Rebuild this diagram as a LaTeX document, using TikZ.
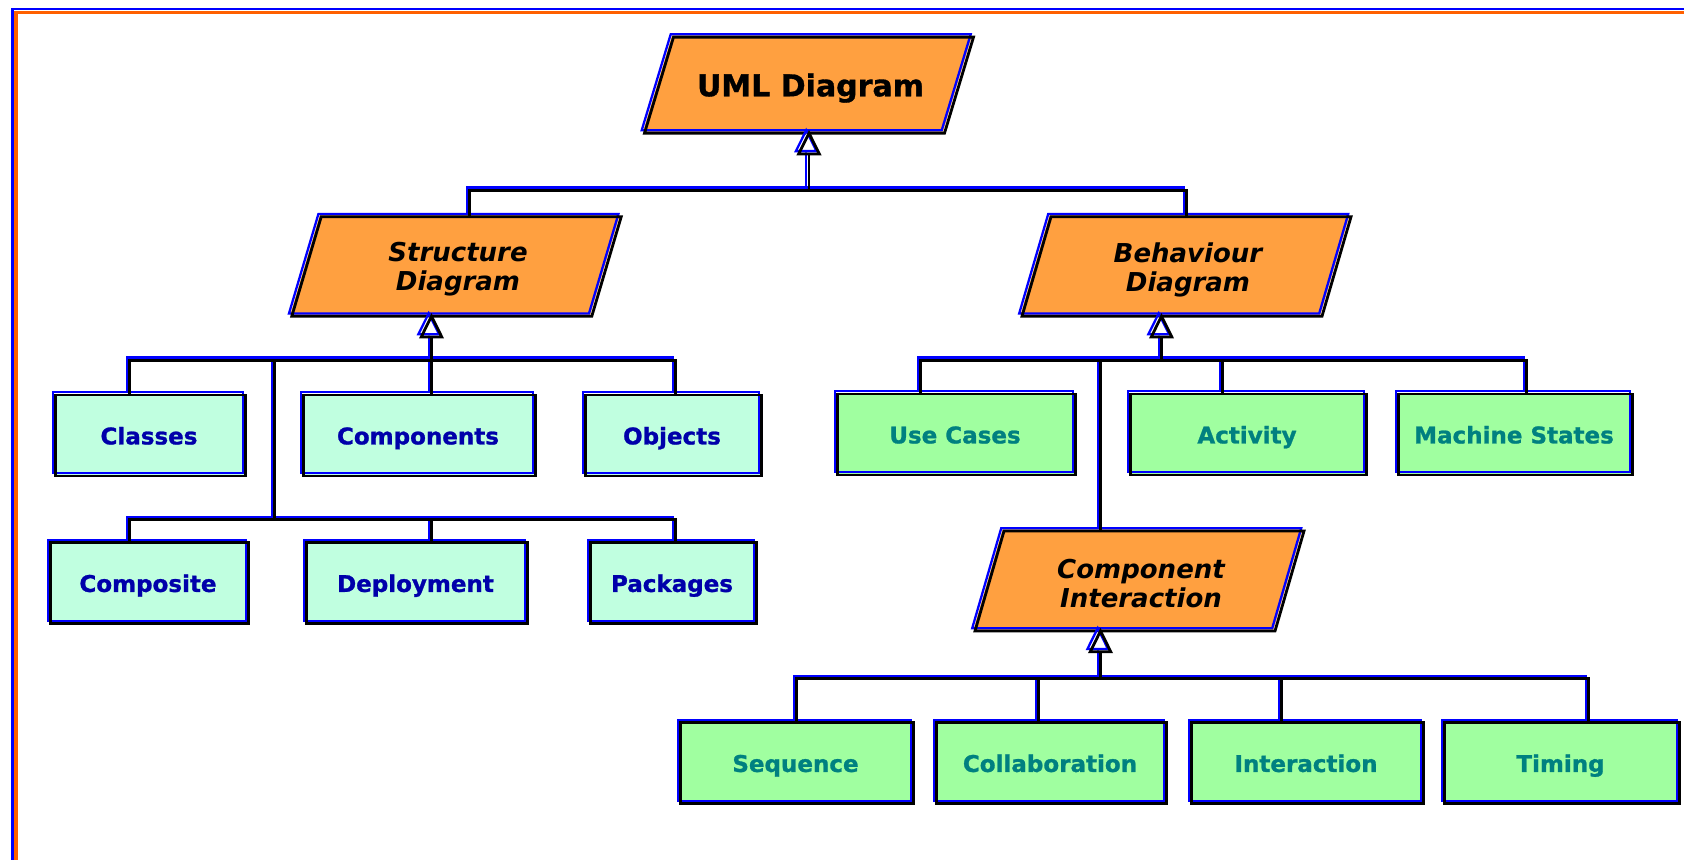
\documentclass[tikz,border=0pt]{standalone}
\usepackage{fontspec}
\setmainfont{DejaVu Sans}[BoldFeatures={FakeBold=1.1}]
\usetikzlibrary{calc}

\definecolor{frameBlue}{RGB}{0,0,255}
\definecolor{frameOrange}{RGB}{255,96,0}
\definecolor{edgeBlue}{RGB}{0,0,255}
\definecolor{kindFill}{RGB}{255,160,64}
\definecolor{structFill}{RGB}{192,255,224}
\definecolor{structText}{RGB}{0,0,170}
\definecolor{behavFill}{RGB}{160,255,160}
\definecolor{behavText}{RGB}{0,128,128}

\tikzset{
  % raised edge: blue line up-left, black line down-right
  ridge/.style={
    postaction={draw=edgeBlue, line width=1.15pt,
      transform canvas={shift={(-0.65pt,0.65pt)}}},
    postaction={draw=black, line width=1.4pt,
      transform canvas={shift={(0.75pt,-0.75pt)}}}},
  leaf/.style={rectangle, fill=#1, ridge, minimum height=40.5pt,
    inner sep=0pt, text height=10.4pt, text depth=0pt,
    font=\fontsize{11.5}{14}\selectfont\bfseries},
  structleaf/.style={leaf=structFill, text=structText},
  behavleaf/.style={leaf=behavFill, text=behavText},
  kindtext/.style={align=center, inner sep=0pt,
    font=\fontsize{13}{14.5}\selectfont\bfseries\itshape},
  openhead/.style={fill=white, ridge},
}

% slanted box: name, cx, cy, half width, half height, half slant, text, font
\newcommand\kindshape[8]{%
  \path[fill=kindFill, ridge]
    (#2-#4+#6,#3-#5) -- (#2+#4+#6,#3-#5) -- (#2+#4-#6,#3+#5) -- (#2-#4-#6,#3+#5) -- cycle;
  \coordinate (#1-top) at (#2,#3-#5);
  \coordinate (#1-bot) at (#2,#3+#5);
  \node[kindtext, #8] (#1) at (#2+3,#3+4.5) {#7};
}

\begin{document}
\begin{tikzpicture}[x=0.5pt, y=-0.5pt]
\useasboundingbox (0,0) rectangle (1684,859);

% page frame
\draw[frameBlue, line width=1.25pt] (12.3,8.8) rectangle (1760,940);
\draw[frameOrange, line width=1.9pt] (15.9,12.4) rectangle (1760,940);

% diagram kinds
\kindshape{uml}{807.5}{83.6}{150}{48}{14.5}{UML Diagram}{font=\fontsize{15}{17}\selectfont\bfseries}
\kindshape{struct}{455}{265}{150}{49.7}{14.7}{Structure\\Diagram}{}
\kindshape{behav}{1185}{265}{150}{49.7}{14.5}{Behaviour\\Diagram}{}
\kindshape{ci}{1138}{579.5}{150}{50}{14.5}{Component\\Interaction}{}

% structure diagrams
\node[structleaf, minimum width=95pt]  (classes)    at (149,434)   {Classes};
\node[structleaf, minimum width=116pt] (components) at (418,434)   {Components};
\node[structleaf, minimum width=88pt]  (objects)    at (672,434)   {Objects};
\node[structleaf, minimum width=99pt]  (composite)  at (148,581.5) {Composite};
\node[structleaf, minimum width=110.5pt] (deployment) at (415.5,581.5) {Deployment};
\node[structleaf, minimum width=83pt]  (packages)   at (672,581.5) {Packages};

% behaviour diagrams
\node[behavleaf, minimum width=119pt] (usecases) at (955,433)  {Use Cases};
\node[behavleaf, minimum width=118pt] (activity) at (1247,433) {Activity};
\node[behavleaf, minimum width=117pt] (machine)  at (1514,433) {Machine States};

% interaction diagrams
\node[behavleaf, minimum width=116.5pt] (sequence)    at (795.5,761.5) {Sequence};
\node[behavleaf, minimum width=115pt]   (collab)      at (1050,761.5)  {Collaboration};
\node[behavleaf, minimum width=116pt]   (interaction) at (1306,761.5)  {Interaction};
\node[behavleaf, minimum width=117.5pt] (timing)      at (1560.5,761.5) {Timing};

% bus points
\coordinate (ua) at (807.5,152.5);
\coordinate (t1) at (468,188.7);
\coordinate (t2) at (1185,188.7);

\coordinate (sa) at (430,335.5);
\coordinate (s1) at (128,358.7);
\coordinate (s2) at (674,358.7);
\coordinate (s3) at (273,358.7);
\coordinate (s4) at (128,518);
\coordinate (s5) at (674,518);

\coordinate (ba) at (1160,335.5);
\coordinate (b1) at (919,358.7);
\coordinate (b2) at (1525,358.7);
\coordinate (b3) at (1221,358.7);
\coordinate (b4) at (1099,358.7);

\coordinate (ca) at (1099,650.3);
\coordinate (c1) at (795,677);
\coordinate (c2) at (1587,677);
\coordinate (c3) at (1037,677);
\coordinate (c4) at (1280,677);

% connectors
\path[ridge]
  (struct-top -| t1) -- (t1) -- (t2) -- (behav-top -| t2)
  (ua) -- (ua |- t1);

\path[ridge]
  (classes.north -| s1) -- (s1) -- (s2) -- (objects.north -| s2)
  (sa) -- (components.north -| sa)
  (s3) -- (s3 |- s4)
  (composite.north -| s4) -- (s4) -- (s5) -- (packages.north -| s5)
  (sa |- s4) -- (deployment.north -| sa);

\path[ridge]
  (usecases.north -| b1) -- (b1) -- (b2) -- (machine.north -| b2)
  (ba) -- (ba |- b1)
  (b3) -- (activity.north -| b3)
  (b4) -- (ci-top -| b4);

\path[ridge]
  (sequence.north -| c1) -- (c1) -- (c2) -- (timing.north -| c2)
  (ca) -- (ca |- c1)
  (c3) -- (collab.north -| c3)
  (c4) -- (interaction.north -| c4);

% generalisation heads
\path[openhead] (uml-bot) -- ++(10.3,20.8) -- ++(-20.6,0) -- cycle;
\path[openhead] (sa |- struct-bot) -- ++(10.3,20.8) -- ++(-20.6,0) -- cycle;
\path[openhead] (ba |- behav-bot) -- ++(10.3,20.8) -- ++(-20.6,0) -- cycle;
\path[openhead] (ca |- ci-bot) -- ++(10.3,20.8) -- ++(-20.6,0) -- cycle;
\end{tikzpicture}
\end{document}
